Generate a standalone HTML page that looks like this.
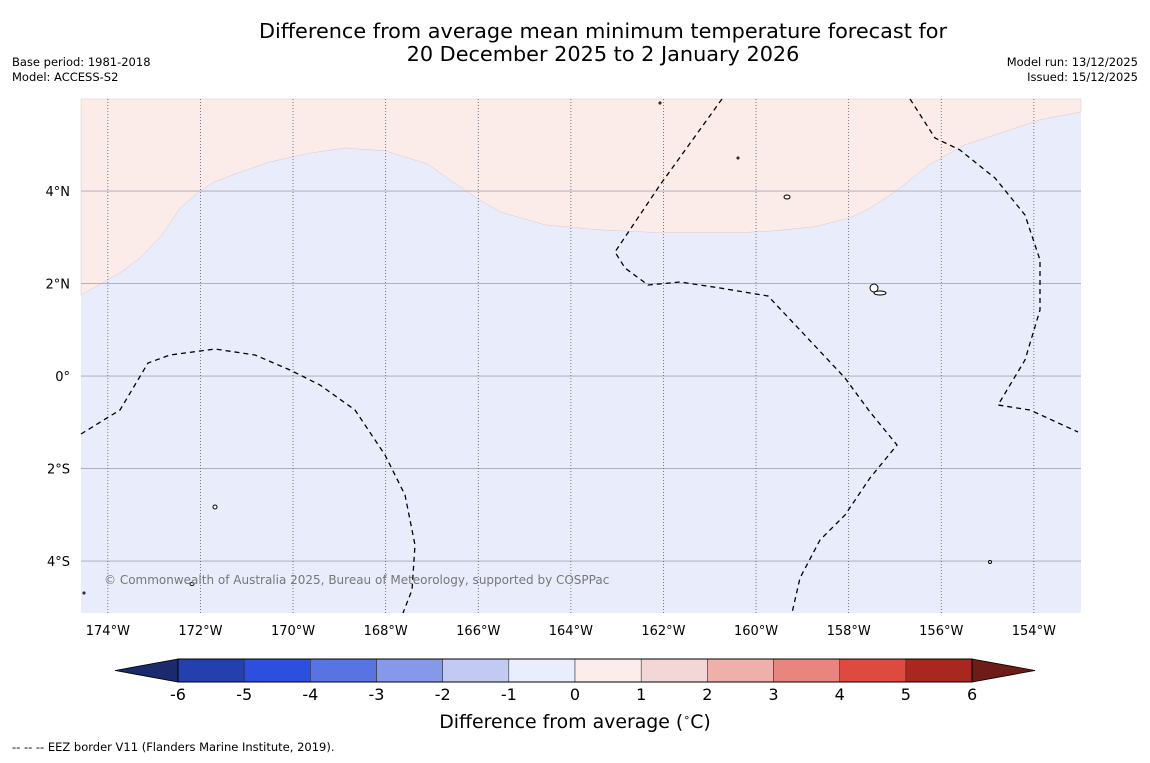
<!DOCTYPE html>
<html><head><meta charset="utf-8"><style>
body{margin:0;background:#fff;font-family:"Liberation Sans","DejaVu Sans",sans-serif;}
svg text{font-family:"DejaVu Sans","Liberation Sans",sans-serif;}
</style></head><body>
<svg id="c" width="1150" height="758" xmlns="http://www.w3.org/2000/svg">
<rect width="1150" height="758" fill="#fff"/>
<text x="603" y="38" font-size="20.8" text-anchor="middle">Difference from average mean minimum temperature forecast for</text>
<text x="603" y="61" font-size="20.8" text-anchor="middle">20 December 2025 to 2 January 2026</text>
<text x="12" y="66" font-size="11.5">Base period: 1981-2018</text>
<text x="12" y="81" font-size="11.5">Model: ACCESS-S2</text>
<text x="1138" y="66" font-size="11.5" text-anchor="end">Model run: 13/12/2025</text>
<text x="1138" y="81" font-size="11.5" text-anchor="end">Issued: 15/12/2025</text>
<g id="map"></g>
<g id="cb"></g>
<text x="575" y="728" font-size="18.9" text-anchor="middle">Difference from average (<tspan font-size="11" dy="-7">∘</tspan><tspan dy="7">C)</tspan></text>
<text x="12" y="751" font-size="11.5">--  --  -- EEZ border V11 (Flanders Marine Institute, 2019).</text>
</svg>
<script>
const lonTicks=[-174,-172,-170,-168,-166,-164,-162,-160,-158,-156,-154];
const lonLabels=["174°W","172°W","170°W","168°W","166°W","164°W","162°W","160°W","158°W","156°W","154°W"];
const latTicks=[4,2,0,-2,-4];
const latLabels=["4°N","2°N","0°","2°S","4°S"];
const boundaryLon=[-174.58,-173.74,-173.31,-172.83,-172.44,-172.01,-171.69,-171.25,-170.5,-169.63,-168.88,-168.01,-167.09,-166.61,-166.07,-165.53,-164.56,-163.37,-162.07,-160.35,-159.59,-158.73,-157.97,-157.54,-157.0,-156.24,-155.49,-154.73,-153.87,-152.98];
const boundaryLat=[1.75,2.23,2.55,3.05,3.63,4.0,4.2,4.37,4.63,4.82,4.93,4.87,4.58,4.24,3.87,3.55,3.27,3.16,3.1,3.1,3.14,3.23,3.42,3.63,3.98,4.58,5.0,5.25,5.54,5.71];
const cbValues=[-6,-5,-4,-3,-2,-1,0,1,2,3,4,5,6];
const cbColors=["#2440ae","#2d4fdd","#5873e2","#8598ea","#c2caf4","#eaedfb","#fbedeb","#f3d6d7","#efb0ac","#e8857e","#dc4a40","#a8281f"];
const NS="http://www.w3.org/2000/svg";
const X0=81,X1=1081,Y0=99,Y1=613,LON0=-174.58,LAT0=5.99,PX=46.3,PY=46.25;
const xs=l=>X0+(l-LON0)*PX, ys=a=>Y0+(LAT0-a)*PY;
function el(t,a,p){const e=document.createElementNS(NS,t);for(const k in a)e.setAttribute(k,a[k]);p.appendChild(e);return e;}
const map=document.getElementById('map');
let r=el('rect',{x:X0,y:Y0,width:X1-X0,height:Y1-Y0,fill:'#e9ecfb'},map);


let d='M'+X0+','+Y0;
boundaryLon.forEach((l,i)=>{d+=' L'+xs(l).toFixed(1)+','+ys(boundaryLat[i]).toFixed(1);});
d+=' L'+X1+','+Y0+' Z';
let warm=el('path',{d:d,fill:'#fbebe9',stroke:'#d9c9cf','stroke-width':0.5},map);


latTicks.forEach((a,i)=>{const y=ys(a);
 let g=el('line',{x1:X0,x2:X1,y1:y,y2:y,stroke:'#a8a8b4','stroke-width':0.8},map);
 
 
 let t=el('text',{x:70,y:y+5,'font-size':13,'text-anchor':'end'},map);t.textContent=latLabels[i];
 
 });
lonTicks.forEach((l,i)=>{const x=xs(l);
 let g=el('line',{x1:x,x2:x,y1:Y0,y2:Y1,stroke:'#555a70','stroke-width':0.8,'stroke-dasharray':'1,2'},map);
 
 
 let t=el('text',{x:x,y:635,'font-size':13,'text-anchor':'middle'},map);t.textContent=lonLabels[i];
 
 });
const eez=["M81,434 L120,410 L148,363 L170,355 L215,349 L255,355 L290,370 L320,385 L355,410 L385,455 L405,495 L415,545 L412,590 L403,613",
"M722,99 L660,185 L615,252 L625,268 L648,285 L680,282 L720,288 L768,296 L800,330 L845,378 L870,412 L897,445 L870,478 L845,515 L820,540 L800,578 L792,613",
"M910,99 L935,138 L960,150 L995,178 L1025,215 L1040,260 L1040,310 L1025,360 L998,405 L1030,410 L1078,432"];
eez.forEach(p=>{let e=el('path',{d:p,fill:'none',stroke:'#000','stroke-width':1.3,'stroke-dasharray':'5,4'},map);
 
 });
[[787,197,3,2],[874,288,4,4],[880,293,6,2],[215,507,2,2],[192,584,2,1.5],[660,103,1,1],[738,158,1,1],[990,562,1.5,1.5],[84,593,1,1]].forEach(s=>{
 let e=el('ellipse',{cx:s[0],cy:s[1],rx:s[2],ry:s[3],fill:'#fff',stroke:'#000','stroke-width':1},map);
 
 });
let cp=el('text',{x:104,y:584,'font-size':12,fill:'#777'},map);cp.textContent='© Commonwealth of Australia 2025, Bureau of Meteorology, supported by COSPPac';


const cb=document.getElementById('cb');
const C0=178,CW=66.17,CY=659,CH=23;
const cx=v=>C0+(v-cbValues[0])*CW;
let lt=el('polygon',{points:`${cx(-6)},${CY} 115,${CY+CH/2} ${cx(-6)},${CY+CH}`,fill:'#1a2a6c',stroke:'#000','stroke-width':0.8},cb);


let rt=el('polygon',{points:`${cx(6)},${CY} 1035,${CY+CH/2} ${cx(6)},${CY+CH}`,fill:'#6e1c18',stroke:'#000','stroke-width':0.8},cb);


cbColors.forEach((c,i)=>{let b=el('rect',{x:cx(cbValues[i]),y:CY,width:CW,height:CH,fill:c,stroke:'#222','stroke-width':0.5},cb);
 
 });
el('rect',{x:cx(-6),y:CY,width:cx(6)-cx(-6),height:CH,fill:'none',stroke:'#000','stroke-width':1},cb);
cbValues.forEach(v=>{let t=el('text',{x:cx(v),y:700,'font-size':16,'text-anchor':'middle'},cb);t.textContent=v;
 
 });
</script>
</body></html>
